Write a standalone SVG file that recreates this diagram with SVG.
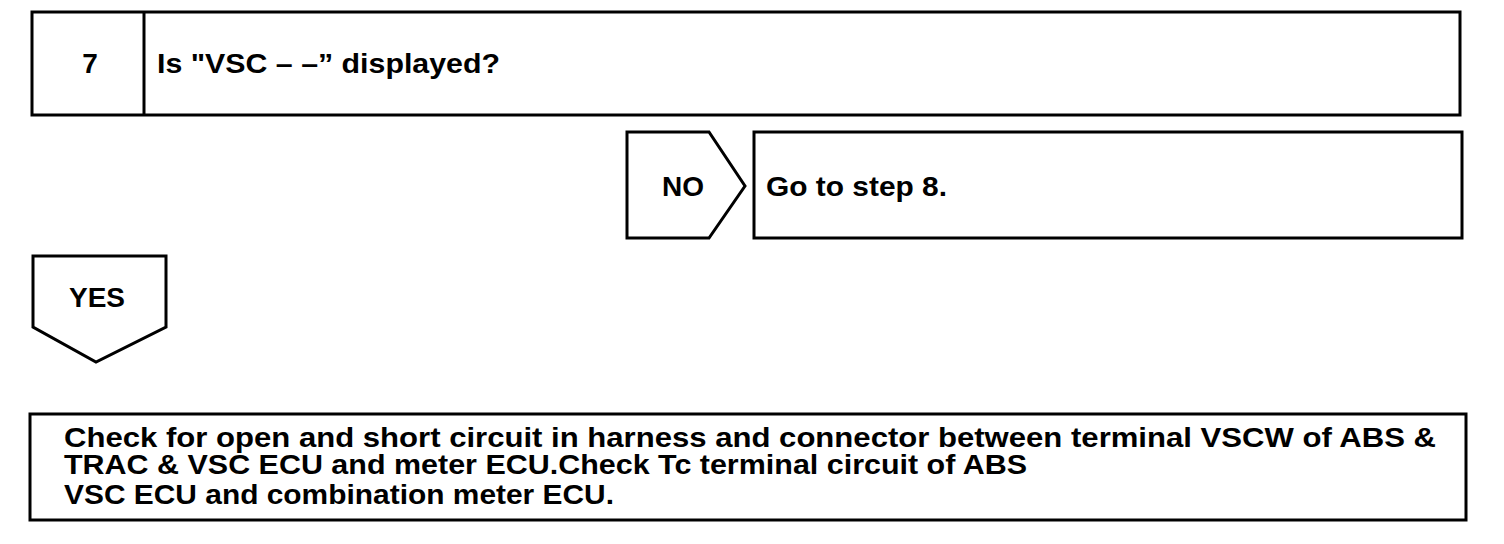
<svg xmlns="http://www.w3.org/2000/svg" width="1504" height="544" viewBox="0 0 1504 544">
<style>
.box{fill:#fff;stroke:#000;stroke-width:3}
.t{font-family:"Liberation Sans",Arial,sans-serif;font-weight:bold;font-size:28px;fill:#000}
.s{font-size:27px}
.c{text-anchor:middle}
</style>
<rect width="1504" height="544" fill="#fff"/>
<g id="step7">
<rect class="box" x="32" y="12" width="1428" height="103"/>
<line x1="144" y1="12" x2="144" y2="115" stroke="#000" stroke-width="3"/>
<text class="t c" x="90" y="73">7</text>
<text class="t" x="157" y="73" textLength="343" lengthAdjust="spacingAndGlyphs">Is "VSC – –” displayed?</text>
</g>
<g id="no">
<path class="box" d="M627,132 H709 L745,186 L709,238 H627 Z"/>
<text class="t c" x="683" y="196">NO</text>
</g>
<g id="step8">
<rect class="box" x="754" y="132" width="708" height="106"/>
<text class="t" x="766" y="196" textLength="181" lengthAdjust="spacingAndGlyphs">Go to step 8.</text>
</g>
<g id="yes">
<path class="box" d="M33,256 H166 V327 L96,362 L33,327 Z"/>
<text class="t c" x="97" y="307">YES</text>
</g>
<g id="check">
<rect class="box" x="30" y="414" width="1436" height="106"/>
<text class="t s" x="64" y="447" textLength="1372" lengthAdjust="spacingAndGlyphs">Check for open and short circuit in harness and connector between terminal VSCW of ABS &amp;</text>
<text class="t s" x="64" y="474" textLength="963" lengthAdjust="spacingAndGlyphs">TRAC &amp; VSC ECU and meter ECU.Check Tc terminal circuit of ABS</text>
<text class="t s" x="64" y="504" textLength="550" lengthAdjust="spacingAndGlyphs">VSC ECU and combination meter ECU.</text>
</g>
<g id="connectors"></g>
</svg>
